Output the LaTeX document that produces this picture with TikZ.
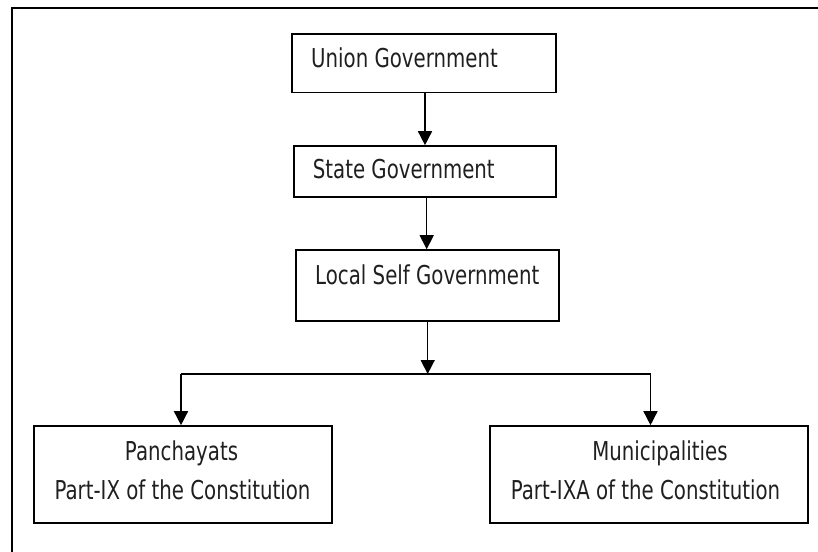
\documentclass[tikz,border=0pt]{standalone}
\usepackage{fontspec}
\setmainfont{DejaVu Sans}[FakeStretch=0.76]
\usetikzlibrary{arrows.meta}
\begin{document}
\begin{tikzpicture}[x=1bp,y=-1bp,
  box/.style={draw=black,line width=1.6bp,inner sep=0pt},
  txt/.style={inner sep=0pt,font=\fontsize{26bp}{30bp}\selectfont,text=black!88},
  conn/.style={line width=1.5bp,-{Triangle[width=14bp,length=14bp]}},
  plain/.style={line width=1.5bp}]
\useasboundingbox (0,0) rectangle (818,552);
\draw[line width=2bp] (11.5,552) -- (11.5,8.5) -- (818,8.5);
% boxes
\node[box,minimum width=264bp,minimum height=58.6bp] (union) at (424,63.3) {};
\node[box,minimum width=262bp,minimum height=51bp] (state) at (424.7,171.5) {};
\node[box,minimum width=263bp,minimum height=71bp] (local) at (427.4,285.5) {};
\node[box,minimum width=298bp,minimum height=97bp] (panch) at (183,474.5) {};
\node[box,minimum width=318bp,minimum height=97bp] (muni) at (649,474.5) {};
% texts
\node[txt,anchor=base west] (tu) at (311,67.3) {Union Government};
\node[txt,anchor=base west] (ts) at (312.7,179) {State Government};
\node[txt,anchor=base west] (tl) at (315,285) {Local Self Government};
\node[txt,anchor=base] (tp1) at (181.5,460.5) {Panchayats};
\node[txt,anchor=base] (tp2) at (182.5,499.5) {Part-IX of the Constitution};
\node[txt,anchor=base] (tm1) at (660,460) {Municipalities};
\node[txt,anchor=base] (tm2) at (645.5,499) {Part-IXA of the Constitution};
% connectors
\coordinate (j) at (427.7,374);
\coordinate (jl) at (181,374);
\coordinate (jr) at (650.5,374);
\draw[conn] (union.south -| 425,0) -- (state.north -| 425,0);
\draw[conn] (state.south -| 426.7,0) -- (local.north -| 426.7,0);
\draw[conn] (local.south -| j) -- (j);
\draw[plain] (jl) -- (jr);
\draw[conn] (jl) -- (panch.north -| jl);
\draw[conn] (jr) -- (muni.north -| jr);
\end{tikzpicture}
\end{document}
